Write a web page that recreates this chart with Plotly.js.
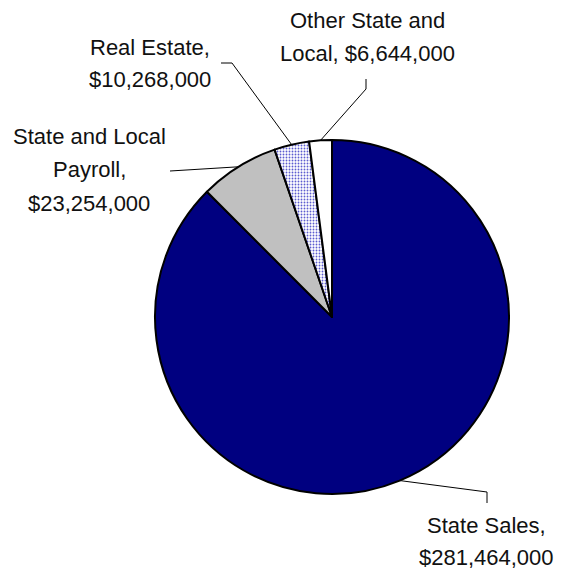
<!DOCTYPE html>
<html>
<head>
<meta charset="utf-8">
<script src="https://cdn.plot.ly/plotly-3.0.1.min.js"></script>
<style>html,body{margin:0;padding:0;background:#fff;}#chart{width:563px;height:569px;}</style>
</head>
<body>
<div id="chart"></div>
<script>
// ---- data ----
const categories = ['State Sales', 'State and Local Payroll', 'Real Estate', 'Other State and Local'];
const values = [281464000, 23254000, 10268000, 6644000];
const labelLines = [
  ['State Sales,', '$281,464,000'],
  ['State and Local', 'Payroll,', '$23,254,000'],
  ['Real Estate,', '$10,268,000'],
  ['Other State and', 'Local, $6,644,000']
];
const sliceColors = ['#000080', '#C0C0C0', '#FFFFFF', '#FFFFFF'];
const slicePatterns = ['', '', '.', ''];

// ---- layout (pixels) ----
const W = 563, H = 569;
const M = {l: 155, r: 54, t: 140, b: 75};
const PW = W - M.l - M.r, PH = H - M.t - M.b;
const CX = M.l + PW / 2, CY = M.t + PH / 2, R = Math.min(PW, PH) / 2;
const labelPos = [
  {x: 486, y: 525, dy: 32},
  {x: 89,  y: 136, dy: 33.5},
  {x: 150, y: 47,  dy: 32},
  {x: 367, y: 21,  dy: 32.5}
];
const leaderPath = [
  [[487, 492], [487, 503]],
  [[170, 171]],
  [[232, 63], [221, 63]],
  [[366, 89], [366, 79]]
];

const px = x => (x - M.l) / PW;
const py = y => 1 - (y - M.t) / PH;

const total = values.reduce((a, b) => a + b, 0);
let cum = 0;
const shapes = [];
const annotations = [];
values.forEach((v, i) => {
  const mid = (cum + v / 2) / total * 2 * Math.PI; // clockwise from top
  cum += v;
  const ex = CX + R * Math.sin(mid), ey = CY - R * Math.cos(mid);
  let d = 'M' + px(ex) + ',' + py(ey);
  leaderPath[i].forEach(p => { d += ' L' + px(p[0]) + ',' + py(p[1]); });
  shapes.push({type: 'path', xref: 'paper', yref: 'paper', path: d,
    line: {color: '#000', width: 1}});
  labelLines[i].forEach((t, k) => {
    annotations.push({xref: 'paper', yref: 'paper', x: px(labelPos[i].x),
      y: py(labelPos[i].y + k * labelPos[i].dy), text: t, showarrow: false,
      xanchor: 'center', yanchor: 'middle',
      font: {family: 'Liberation Sans, Arial, sans-serif', size: 22, color: '#111'}});
  });
});

const trace = {
  type: 'pie',
  labels: categories,
  values: values,
  sort: false,
  direction: 'clockwise',
  rotation: 0,
  textinfo: 'none',
  hoverinfo: 'label+value',
  marker: {
    colors: sliceColors,
    line: {color: '#000', width: 2},
    pattern: {shape: slicePatterns, fgcolor: '#5c5cd0', bgcolor: '#FFFFFF', size: 3, solidity: 0.3}
  }
};

Plotly.newPlot('chart', [trace], {
  width: W, height: H,
  margin: M,
  showlegend: false,
  paper_bgcolor: '#fff',
  shapes: shapes,
  annotations: annotations
}, {displayModeBar: false, staticPlot: true});
</script>
</body>
</html>
